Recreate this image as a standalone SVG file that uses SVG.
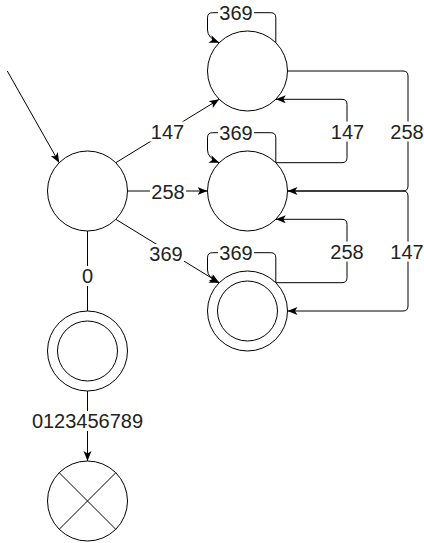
<svg xmlns="http://www.w3.org/2000/svg" width="424" height="543" viewBox="0 0 424 543">
<style>
.n{fill:#fff;stroke:#000;stroke-width:1}
.e{fill:none;stroke:#000;stroke-width:1}
.a{marker-end:url(#arr)}
.lb{fill:#fff;stroke:none}
.t{font-family:"Liberation Sans",Arial,sans-serif;font-size:20px;fill:#222;text-anchor:middle;dominant-baseline:central}
</style>
<defs>
<marker id="arr" markerUnits="userSpaceOnUse" markerWidth="12" markerHeight="10" refX="10" refY="4" orient="auto">
<path d="M0,0 L10,4 L0,8 L2.5,4 Z" fill="#000"/>
</marker>
</defs>
<rect width="424" height="543" fill="#fff"/>
<g id="connectors">
<path class="e a" d="M7.3,71 L59.2,162.7"/>
<path class="e a" d="M115.8,162.7 L219.2,99.3"/>
<path class="e a" d="M127.5,191 L207.5,191"/>
<path class="e a" d="M115.8,219.3 L219.2,282.7"/>
<path class="e a" d="M87.5,231 L87.5,321"/>
<path class="e a" d="M87.5,381 L87.5,461"/>
<path class="e a" d="M275.8,42.7 V17.7 Q275.8,12.7 270.8,12.7 H212.5 Q207.5,12.7 207.5,17.7 V30 Q207.5,38 219.2,42.7"/>
<path class="e a" d="M275.8,162.7 V137.7 Q275.8,132.7 270.8,132.7 H212.5 Q207.5,132.7 207.5,137.7 V150 Q207.5,158 219.2,162.7"/>
<path class="e a" d="M275.8,282.7 V257.7 Q275.8,252.7 270.8,252.7 H212.5 Q207.5,252.7 207.5,257.7 V270 Q207.5,278 219.2,282.7"/>
<path class="e a" d="M287.5,71 H403 Q408,71 408,76 V186 Q408,191 403,191 H287.5"/>
<path class="e a" d="M287.5,191 H403 Q408,191 408,196 V306 Q408,311 403,311 H287.5"/>
<path class="e a" d="M275.8,162.7 H342 Q347,162.7 347,157.7 V104.3 Q347,99.3 342,99.3 H275.8"/>
<path class="e a" d="M275.8,282.7 H342 Q347,282.7 347,277.7 V224.3 Q347,219.3 342,219.3 H275.8"/>
<g id="labels">
<rect class="lb" x="149.5" y="121.5" width="36" height="20"/><text class="t" x="167.5" y="131.5">147</text>
<rect class="lb" x="150" y="181.5" width="36" height="20"/><text class="t" x="168" y="191.5">258</text>
<rect class="lb" x="148" y="244" width="36" height="20"/><text class="t" x="166" y="254">369</text>
<rect class="lb" x="81.5" y="266" width="12" height="20"/><text class="t" x="87.5" y="276">0</text>
<rect class="lb" x="29.5" y="411" width="116" height="20"/><text class="t" x="87.5" y="421">0123456789</text>
<rect class="lb" x="218" y="3" width="36" height="20"/><text class="t" x="236" y="13">369</text>
<rect class="lb" x="218" y="123" width="36" height="20"/><text class="t" x="236" y="133">369</text>
<rect class="lb" x="218" y="243" width="36" height="20"/><text class="t" x="236" y="253">369</text>
<rect class="lb" x="329.5" y="121.5" width="36" height="20"/><text class="t" x="347.5" y="131.5">147</text>
<rect class="lb" x="389" y="121.5" width="36" height="20"/><text class="t" x="407" y="131.5">258</text>
<rect class="lb" x="329" y="241.5" width="36" height="20"/><text class="t" x="347" y="251.5">258</text>
<rect class="lb" x="389" y="241.5" width="36" height="20"/><text class="t" x="407" y="251.5">147</text>
</g>
</g>
<g id="start"><circle class="n" cx="87.5" cy="191" r="40"/></g>
<g id="q147"><circle class="n" cx="247.5" cy="71" r="40"/></g>
<g id="q258"><circle class="n" cx="247.5" cy="191" r="40"/></g>
<g id="q369"><circle class="n" cx="247.5" cy="311" r="40"/><circle class="n" cx="247.5" cy="311" r="30"/></g>
<g id="q0"><circle class="n" cx="87.5" cy="351" r="40"/><circle class="n" cx="87.5" cy="351" r="30"/></g>
<g id="dead"><circle class="n" cx="87.5" cy="501" r="40"/><path class="e" d="M59.2,472.7 L115.8,529.3 M115.8,472.7 L59.2,529.3"/></g>
</svg>
